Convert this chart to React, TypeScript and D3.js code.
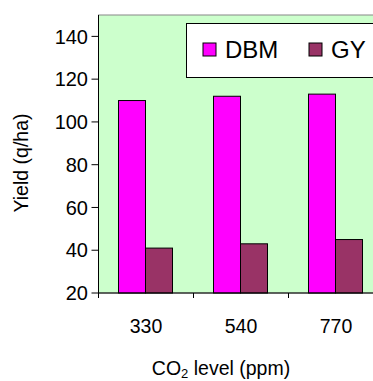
import React from "react";
import * as d3 from "d3";

const categories = ["330", "540", "770"];
const seriesNames = ["DBM", "GY"];
const dbm = [110, 112, 113];
const gy = [41, 43, 45];
const yTicks = [20, 40, 60, 80, 100, 120, 140];
const colors = ["#FF00FF", "#993366"];

export default function App() {
  const W = 373, H = 381;
  const left = 98.5, top = 15, bottom = 293;
  const catW = 95;
  const x = d3.scaleBand<string>().domain(categories).range([left, left + catW * 3]).paddingInner(0).paddingOuter(0);
  const y = d3.scaleLinear().domain([20, 150]).range([bottom, top]);
  const barW = 27;
  const offset = 20;
  const font = "'Liberation Sans', Arial, sans-serif";
  const series = [dbm, gy];
  return (
    <svg width={W} height={H} style={{ position: "absolute", left: 0, top: 0 }} fontFamily={font}>
      <rect x={left} y={top} width={W - left + 5} height={bottom - top} fill="#CCFFCC" stroke="#888" strokeWidth={1} />
      {series.map((vals, si) =>
        vals.map((v, i) => (
          <rect key={si + "-" + i}
            x={(x(categories[i]) as number) + offset + si * barW}
            y={y(v)} width={barW} height={bottom - y(v)}
            fill={colors[si]} stroke="#000" strokeWidth={1} />
        ))
      )}
      <line x1={left} x2={left} y1={top} y2={bottom + 5} stroke="#000" />
      <line x1={left} x2={W} y1={bottom} y2={bottom} stroke="#000" />
      {yTicks.map(t => (
        <g key={t}>
          <line x1={left - 7} x2={left} y1={y(t)} y2={y(t)} stroke="#000" />
          <text x={88} y={y(t)} dy="0.36em" textAnchor="end" fontSize={20}>{t}</text>
        </g>
      ))}
      {[0, 1, 2].map(i => (
        <line key={i} x1={left + i * catW} x2={left + i * catW} y1={bottom} y2={bottom + 5} stroke="#000" />
      ))}
      {categories.map(c => (
        <text key={c} x={(x(c) as number) + x.bandwidth() / 2} y={333} textAnchor="middle" fontSize={19.5}>{c}</text>
      ))}
      <text x={221} y={375} textAnchor="middle" fontSize={19.5}>
        CO<tspan fontSize={13} dy={3}>2</tspan><tspan dy={-3}> level (ppm)</tspan>
      </text>
      <text transform="translate(28,163) rotate(-90)" textAnchor="middle" fontSize={19.5}>Yield (q/ha)</text>
      <rect x={186.5} y={23.5} width={W} height={54} fill="#fff" stroke="#000" strokeWidth={1} />
      {seriesNames.map((n, i) => (
        <g key={n}>
          <rect x={[203, 309][i]} y={43} width={13} height={13} fill={colors[i]} stroke="#000" />
          <text x={[225, 331][i]} y={58} fontSize={24}>{n}</text>
        </g>
      ))}
    </svg>
  );
}
